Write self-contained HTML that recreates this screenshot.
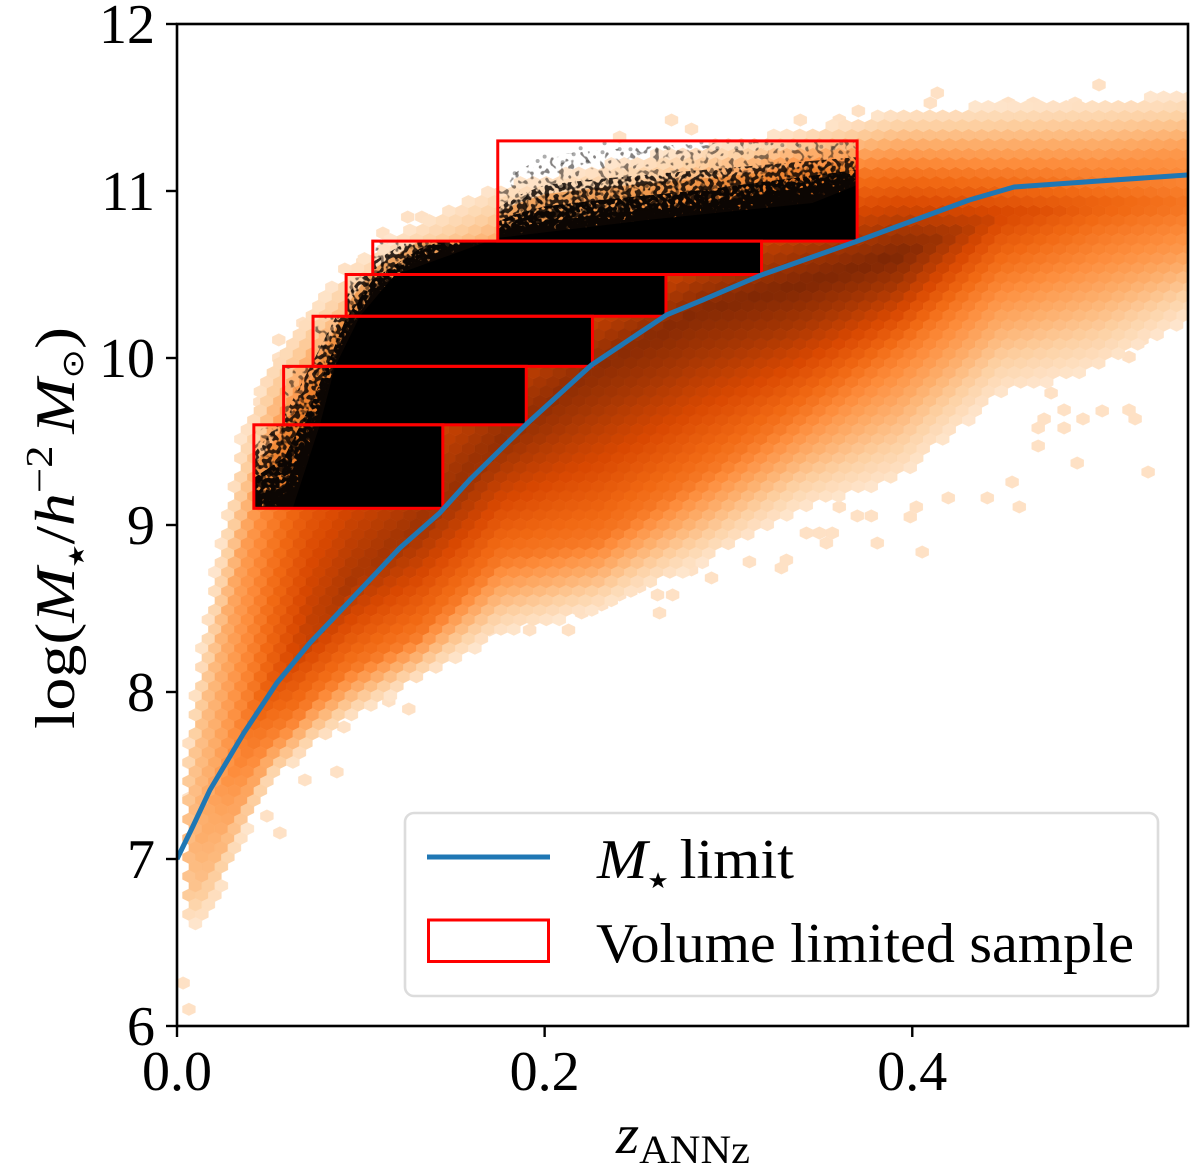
<!DOCTYPE html>
<html lang="en">
<head>
<meta charset="utf-8">
<title>Stellar mass limit versus redshift</title>
<style>
  html, body { margin: 0; padding: 0; background: #fff; }
  svg { display: block; }
  text { font-family: "Liberation Serif", "DejaVu Serif", serif; fill: #000; }
  .sym { font-family: "DejaVu Sans", "Liberation Serif", sans-serif; }
</style>
</head>
<body>
<svg id="chart" xmlns="http://www.w3.org/2000/svg" width="1200" height="1175" viewBox="0 0 1200 1175">
  <defs>
    <clipPath id="axes-clip"><rect x="177" y="24" width="1011" height="1002"/></clipPath>
    <clipPath id="boxes-clip"></clipPath>
    <filter id="speck-1" filterUnits="userSpaceOnUse" x="177" y="24" width="1011" height="1002" color-interpolation-filters="sRGB">
      <feTurbulence type="fractalNoise" baseFrequency="0.2" numOctaves="1" seed="4" result="n"/>
      <feColorMatrix in="n" type="matrix" values="0 0 0 0 0  0 0 0 0 0  0 0 0 0 0  12 0 0 0 -6.8" result="m"/>
      <feComposite in="SourceGraphic" in2="m" operator="in"/>
    </filter>
    <filter id="speck-2" filterUnits="userSpaceOnUse" x="177" y="24" width="1011" height="1002" color-interpolation-filters="sRGB">
      <feTurbulence type="fractalNoise" baseFrequency="0.22" numOctaves="1" seed="9" result="n"/>
      <feColorMatrix in="n" type="matrix" values="0 0 0 0 0  0 0 0 0 0  0 0 0 0 0  12 0 0 0 -5.6" result="m"/>
      <feComposite in="SourceGraphic" in2="m" operator="in"/>
    </filter>
    <filter id="speck-3" filterUnits="userSpaceOnUse" x="177" y="24" width="1011" height="1002" color-interpolation-filters="sRGB">
      <feTurbulence type="fractalNoise" baseFrequency="0.24" numOctaves="1" seed="15" result="n"/>
      <feColorMatrix in="n" type="matrix" values="0 0 0 0 0  0 0 0 0 0  0 0 0 0 0  12 0 0 0 -4.6" result="m"/>
      <feComposite in="SourceGraphic" in2="m" operator="in"/>
    </filter>
    <filter id="speck-4" filterUnits="userSpaceOnUse" x="177" y="24" width="1011" height="1002" color-interpolation-filters="sRGB">
      <feTurbulence type="fractalNoise" baseFrequency="0.26" numOctaves="1" seed="22" result="n"/>
      <feColorMatrix in="n" type="matrix" values="0 0 0 0 0  0 0 0 0 0  0 0 0 0 0  12 0 0 0 -3.6" result="m"/>
      <feComposite in="SourceGraphic" in2="m" operator="in"/>
    </filter>
  </defs>
  <g id="plot" clip-path="url(#axes-clip)">
    <g id="hexes"></g>
    <g id="samples" clip-path="url(#boxes-clip)"></g>
    <g id="boxes"></g>
    <path id="limit-line" fill="none" stroke="#1f77b4" stroke-width="5" stroke-linejoin="round"/>
  </g>
  <g id="axis-ticks"></g>
  <rect x="177" y="24" width="1011" height="1002" fill="none" stroke="#000" stroke-width="2.6"/>

  <g>
    <rect x="405" y="813" width="753" height="183" rx="9" fill="#fff" fill-opacity="0.9" stroke="#dcdcdc" stroke-width="2.6"/>
    <g>
      <line x1="427" y1="857" x2="550" y2="857" stroke="#1f77b4" stroke-width="5"/>
      <text x="597" y="878" font-size="56" textLength="197" lengthAdjust="spacingAndGlyphs"><tspan font-style="italic">M</tspan><tspan class="sym" font-size="22" dy="10">★</tspan><tspan dy="-10" dx="10">limit</tspan></text>
    </g>
    <g>
      <rect x="428.5" y="920" width="120" height="41.500" fill="none" stroke="#f00" stroke-width="3"/>
      <text x="596" y="962" font-size="56" textLength="538" lengthAdjust="spacingAndGlyphs">Volume limited sample</text>
    </g>
  </g>

  <text x="616" y="1153" font-size="56" textLength="134" lengthAdjust="spacingAndGlyphs"><tspan font-style="italic">z</tspan><tspan font-size="40" dy="10">ANNz</tspan></text>
  <text transform="translate(74 729) rotate(-90)" font-size="56" textLength="402" lengthAdjust="spacingAndGlyphs">log(<tspan font-style="italic">M</tspan><tspan class="sym" font-size="22" dy="10">★</tspan><tspan dy="-10">/</tspan><tspan font-style="italic">h</tspan><tspan font-size="38" dy="-22">−2</tspan><tspan dy="22" dx="10" font-style="italic">M</tspan><tspan class="sym" font-size="30" dy="9">⊙</tspan><tspan dy="-9">)</tspan></text>
</svg>

<script>
// Axis limits
const zDomain = [0, 0.55];
const massDomain = [6, 12];

// Tick labels
const xTicks = [0, 0.2, 0.4];
const xTickLabels = ["0.0", "0.2", "0.4"];
const yTicks = [6, 7, 8, 9, 10, 11, 12];
const yTickLabels = ["6", "7", "8", "9", "10", "11", "12"];

// Hexbin density profile, read per redshift column
const columnZ =       [0.0043, 0.0125, 0.0207, 0.0342, 0.0505, 0.0723, 0.094, 0.1321, 0.1755, 0.2299, 0.2842, 0.3386, 0.3929, 0.4473, 0.5016, 0.5495];
const upperEdge =     [7.593, 8.252, 8.731, 9.509, 10.0, 10.287, 10.557, 10.826, 11.036, 11.156, 11.275, 11.365, 11.485, 11.515, 11.545, 11.575];
const upperShoulder = [7.353, 7.772, 8.192, 8.79, 9.329, 9.749, 9.988, 10.228, 10.467, 10.647, 10.886, 11.096, 11.126, 11.096, 11.156, 11.246];
const ridge =         [7.054, 7.114, 7.353, 7.623, 7.982, 8.341, 8.641, 8.999, 9.509, 9.958, 10.287, 10.437, 10.617, 10.856, 10.916, 10.916];
const lowerShoulder = [6.784, 6.814, 6.994, 7.353, 7.683, 7.952, 8.132, 8.341, 8.79, 8.91, 9.281, 9.659, 10.048, 10.509, 10.587, 10.647];
const lowerEdge =     [6.605, 6.605, 6.725, 7.084, 7.443, 7.653, 7.832, 8.072, 8.341, 8.491, 8.76, 9.09, 9.269, 9.778, 9.928, 10.228];
const peakDensity =   [0.22, 0.28, 0.33, 0.47, 0.62, 0.78, 0.84, 0.88, 0.92, 0.95, 0.98, 1.0, 1.0, 0.72, 0.6, 0.52];

// Isolated low-count hexagons
const outlierZ =    [0.525, 0.5179, 0.4755, 0.5033, 0.5179, 0.5212, 0.4929, 0.4826, 0.4826, 0.4717, 0.4685, 0.4685, 0.4897, 0.5283, 0.4582, 0.4543, 0.4408, 0.4196, 0.4022, 0.3989, 0.3777, 0.3701, 0.3603, 0.381, 0.4054, 0.3565, 0.3424, 0.3495, 0.3533, 0.2625, 0.2696, 0.2614, 0.2408, 0.2201, 0.231, 0.213, 0.1918, 0.1701, 0.2908, 0.2799, 0.2516, 0.3288, 0.3315, 0.3114, 0.1261, 0.1152, 0.0908, 0.087, 0.0696, 0.056, 0.0489, 0.0065, 0.0065, 0.5016, 0.4136, 0.4098, 0.3707, 0.4522, 0.4658, 0.4886, 0.531, 0.5446, 0.269, 0.2799, 0.3391, 0.3603, 0.2408, 0.1255, 0.1332, 0.112, 0.1011, 0.0913, 0.0804, 0.0685, 0.0554, 0.0554, 0.0451, 0.0033, 0.0065];
const outlierMass = [10.108, 10.006, 9.79, 9.683, 9.689, 9.635, 9.635, 9.689, 9.581, 9.635, 9.581, 9.473, 9.371, 9.317, 9.108, 9.257, 9.162, 9.162, 9.108, 9.048, 9.054, 9.054, 9.108, 8.892, 8.838, 8.952, 8.952, 8.952, 8.892, 8.473, 8.581, 8.581, 8.581, 8.473, 8.521, 8.371, 8.371, 8.371, 8.683, 8.731, 8.629, 8.743, 8.79, 8.779, 7.898, 7.946, 7.79, 7.521, 7.473, 7.156, 7.257, 7.575, 7.365, 11.635, 11.587, 11.527, 11.479, 11.527, 11.527, 11.527, 11.533, 11.545, 11.425, 11.371, 11.425, 11.425, 11.323, 10.844, 10.844, 10.748, 10.575, 10.533, 10.365, 10.209, 10.108, 10.0, 9.737, 6.257, 6.1];

// Volume limited sample boxes
const boxZMin =    [0.0418, 0.058, 0.074, 0.092, 0.1065, 0.1745];
const boxZMax =    [0.1446, 0.19, 0.226, 0.266, 0.318, 0.37];
const boxMassMin = [9.1, 9.6, 9.95, 10.25, 10.5, 10.7];
const boxMassMax = [9.6, 9.95, 10.25, 10.5, 10.7, 11.3];

// Upper envelopes of the galaxies inside the boxes
const solidZ =     [0.063, 0.0777, 0.0859, 0.0995, 0.1185, 0.1745, 0.2554, 0.3457, 0.3701];
const solidMass =  [9.102, 9.599, 9.946, 10.251, 10.497, 10.719, 10.826, 10.928, 11.036];
const sparseZ =    [0.0397, 0.0418, 0.0582, 0.0739, 0.0918, 0.1065, 0.1321, 0.1745, 0.1837, 0.2, 0.2299, 0.2842, 0.3701];
const sparseMass = [9.509, 9.629, 9.988, 10.287, 10.539, 10.719, 10.856, 11.006, 11.108, 11.21, 11.245, 11.287, 11.305];

// Individually visible faint galaxies in the top box
const galaxyZ =    [0.1837, 0.2, 0.1962, 0.2098, 0.2158, 0.2196, 0.2234, 0.2315, 0.2326, 0.2408, 0.2467, 0.2511, 0.2609, 0.2674, 0.2793, 0.2853, 0.294, 0.3043, 0.312, 0.3207, 0.3293, 0.3386, 0.3505, 0.3571, 0.3614];
const galaxyMass = [11.106, 11.206, 11.18, 11.172, 11.22, 11.256, 11.175, 11.232, 11.286, 11.251, 11.25, 11.226, 11.241, 11.256, 11.265, 11.291, 11.256, 11.256, 11.291, 11.285, 11.275, 11.271, 11.265, 11.256, 11.286];

// Stellar mass limit curve
const limitZ =    [0, 0.0087, 0.0179, 0.0364, 0.0543, 0.0723, 0.0842, 0.1212, 0.1429, 0.1592, 0.1902, 0.2255, 0.2663, 0.2859, 0.3179, 0.3701, 0.431, 0.4554, 0.5016, 0.5495];
const limitMass = [7.0, 7.197, 7.413, 7.755, 8.054, 8.294, 8.431, 8.862, 9.072, 9.27, 9.605, 9.958, 10.258, 10.347, 10.497, 10.7, 10.946, 11.024, 11.06, 11.096];

// Oranges colour ramp
const rampStops =  [0, 0.14, 0.28, 0.42, 0.56, 0.7, 0.85, 1];
const rampColors = [[254,230,206],[253,208,162],[253,174,107],[253,141,60],[241,105,19],[217,72,1],[166,54,3],[127,39,4]];

// Axis functions
function xScale(z) { return 177 + (z - zDomain[0]) / (zDomain[1] - zDomain[0]) * 1011; }
function yScale(m) { return 1026 - (m - massDomain[0]) / (massDomain[1] - massDomain[0]) * 1002; }

const NS = 'http://www.w3.org/2000/svg';
function make(tag, attrs) {
  const el = document.createElementNS(NS, tag);
  for (const k in attrs) el.setAttribute(k, attrs[k]);
  return el;
}
function lerpAt(xs, ys, x) {
  if (x <= xs[0]) return ys[0];
  for (let i = 1; i < xs.length; i++) {
    if (x <= xs[i]) {
      const t = (x - xs[i - 1]) / (xs[i] - xs[i - 1]);
      return ys[i - 1] + t * (ys[i] - ys[i - 1]);
    }
  }
  return ys[ys.length - 1];
}
function rampColor(v) {
  const t = Math.max(0, Math.min(1, v));
  for (let i = 1; i < rampStops.length; i++) {
    if (t <= rampStops[i]) {
      const f = (t - rampStops[i - 1]) / (rampStops[i] - rampStops[i - 1]);
      const a = rampColors[i - 1], b = rampColors[i];
      return 'rgb(' + [0, 1, 2].map(function (c) { return Math.round(a[c] + f * (b[c] - a[c])); }).join(',') + ')';
    }
  }
  return 'rgb(127,39,4)';
}

// Hexagon lattice, in data units
const hexDz = 0.00707;
const hexDm = 0.1138;
const hexZ0 = 0.0065;
const hexM0 = 6.1;
const hexLayer = document.getElementById('hexes');

function addHex(z, m, level) {
  const cx = xScale(z), cy = yScale(m);
  const hw = (xScale(hexDz) - xScale(0)) / 2;
  const hh = (yScale(massDomain[0]) - yScale(massDomain[0] + hexDm)) / 3;
  const pts = [[cx + hw, cy - hh / 2], [cx + hw, cy + hh / 2], [cx, cy + hh], [cx - hw, cy + hh / 2], [cx - hw, cy - hh / 2], [cx, cy - hh]];
  const col = rampColor(level);
  const hex = make('polygon', {
    points: pts.map(function (p) { return p[0].toFixed(1) + ',' + p[1].toFixed(1); }).join(' '),
    fill: col, stroke: col, 'stroke-width': 0.4
  });
  
  
  hexLayer.appendChild(hex);
}

function densityAt(z, m) {
  const lo = lerpAt(columnZ, lowerEdge, z);
  const hi = lerpAt(columnZ, upperEdge, z);
  if (m < lo || m > hi) return -1;
  const lowS = lerpAt(columnZ, lowerShoulder, z);
  const upS = lerpAt(columnZ, upperShoulder, z);
  const mid = lerpAt(columnZ, ridge, z);
  const peak = lerpAt(columnZ, peakDensity, z);
  const shoulder = Math.min(0.5, peak * 0.7);
  if (m <= lowS) return shoulder * (m - lo) / (lowS - lo);
  if (m <= mid) return shoulder + (peak - shoulder) * (m - lowS) / (mid - lowS);
  if (m <= upS) return peak + (shoulder - peak) * (m - mid) / (upS - mid);
  return shoulder * (hi - m) / (hi - upS);
}

outlierZ.forEach(function (z, i) { addHex(z, outlierMass[i], 0.03); });
for (let lattice = 0; lattice < 2; lattice++) {
  for (let i = -2; hexZ0 + i * hexDz < zDomain[1] + hexDz; i++) {
    const z = hexZ0 + i * hexDz + (lattice ? -hexDz / 2 : 0);
    if (z < columnZ[0]) continue;
    for (let j = -1; hexM0 + j * hexDm < massDomain[1]; j++) {
      const m = hexM0 + j * hexDm + (lattice ? hexDm / 2 : 0);
      const level = densityAt(z, m);
      if (level >= 0) addHex(z, m, level);
    }
  }
}

// Box clip and outlines
const boxClip = document.getElementById('boxes-clip');
const boxLayer = document.getElementById('boxes');
boxZMin.forEach(function (z0, i) {
  const x = xScale(z0), w = xScale(boxZMax[i]) - x;
  const y = yScale(boxMassMax[i]), h = yScale(boxMassMin[i]) - y;
  boxClip.appendChild(make('rect', { x: x, y: y, width: w, height: h }));
  const r = make('rect', { x: x, y: y, width: w, height: h, fill: 'none', stroke: '#f00', 'stroke-width': 3 });
  
  
  boxLayer.appendChild(r);
});

// Galaxy sample layers
function envelopePath(zs, ms) {
  const floor = boxMassMin[0];
  let d = 'M' + xScale(zs[0]) + ' ' + yScale(floor);
  zs.forEach(function (z, i) { d += 'L' + xScale(z) + ' ' + yScale(ms[i]); });
  d += 'L' + xScale(zs[zs.length - 1]) + ' ' + yScale(floor) + 'Z';
  return d;
}
function blendedEnvelope(fraction) {
  return sparseZ.map(function (z, i) {
    const solid = lerpAt(solidZ, solidMass, z);
    return solid + fraction * (sparseMass[i] - solid);
  });
}
const sampleLayer = document.getElementById('samples');

const glowArea = make('path', { d: envelopePath(sparseZ, blendedEnvelope(0.5)), fill: '#e8842f', 'fill-opacity': 0.6 });


sampleLayer.appendChild(glowArea);

const speckFractions = [1, 0.62, 0.34, 0.14];
const speckFilters = ['url(#speck-1)', 'url(#speck-2)', 'url(#speck-3)', 'url(#speck-4)'];
const speckOpacity = [0.5, 0.85, 1, 1];
speckFractions.forEach(function (f, i) {
  const group = make('g', { filter: speckFilters[i] });
  const area = make('path', { d: envelopePath(sparseZ, blendedEnvelope(f)), fill: '#0c0603', 'fill-opacity': speckOpacity[i] });
  
  
  group.appendChild(area);
  sampleLayer.appendChild(group);
});

const solidArea = make('path', { d: envelopePath(solidZ, solidMass), fill: '#000' });


sampleLayer.appendChild(solidArea);

galaxyZ.forEach(function (z, i) {
  const dot = make('circle', { cx: xScale(z), cy: yScale(galaxyMass[i]), r: 2, fill: '#333', 'fill-opacity': 0.4 });
  
  
  sampleLayer.appendChild(dot);
});

// Limit curve
document.getElementById('limit-line').setAttribute('d',
  limitZ.map(function (z, i) { return (i ? 'L' : 'M') + xScale(z).toFixed(1) + ' ' + yScale(limitMass[i]).toFixed(1); }).join(''));

// Ticks and tick labels
const tickLayer = document.getElementById('axis-ticks');
xTicks.forEach(function (t, i) {
  const x = xScale(t);
  const tick = make('line', { x1: x, y1: 1026, x2: x, y2: 1037, stroke: '#000', 'stroke-width': 2.4 });
  
  
  tickLayer.appendChild(tick);
  const label = make('text', { x: x, y: 1090, 'text-anchor': 'middle', 'font-size': 56, textLength: 70, lengthAdjust: 'spacingAndGlyphs' });
  
  
  label.textContent = xTickLabels[i];
  tickLayer.appendChild(label);
});
yTicks.forEach(function (t, i) {
  const y = yScale(t);
  const tick = make('line', { x1: 166, y1: y, x2: 177, y2: y, stroke: '#000', 'stroke-width': 2.4 });
  
  
  tickLayer.appendChild(tick);
  const label = make('text', { x: 155, y: y + 19, 'text-anchor': 'end', 'font-size': 56 });
  
  
  label.textContent = yTickLabels[i];
  tickLayer.appendChild(label);
});
</script>
</body>
</html>
